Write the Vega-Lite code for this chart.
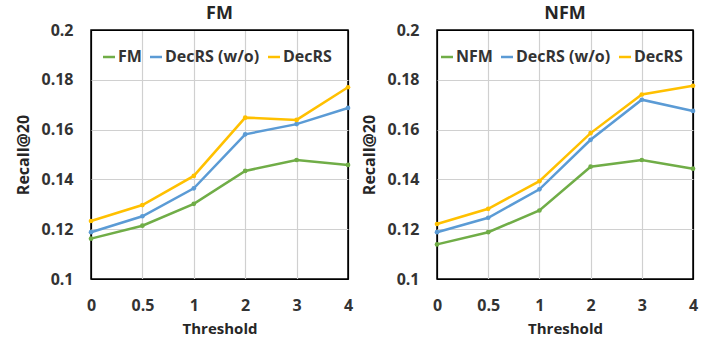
{
  "$schema": "https://vega.github.io/schema/vega-lite/v6.json",
  "padding": {"left": 15, "top": 4, "right": 5, "bottom": 2},
  "background": "white",
  "datasets": {
    "d": [
      {"model": "FM", "series": "FM", "threshold": "0", "recall": 0.1162},
      {"model": "FM", "series": "FM", "threshold": "0.5", "recall": 0.1214},
      {"model": "FM", "series": "FM", "threshold": "1", "recall": 0.1302},
      {"model": "FM", "series": "FM", "threshold": "2", "recall": 0.1434},
      {"model": "FM", "series": "FM", "threshold": "3", "recall": 0.1478},
      {"model": "FM", "series": "FM", "threshold": "4", "recall": 0.1458},
      {"model": "FM", "series": "DecRS (w/o)", "threshold": "0", "recall": 0.1188},
      {"model": "FM", "series": "DecRS (w/o)", "threshold": "0.5", "recall": 0.1252},
      {"model": "FM", "series": "DecRS (w/o)", "threshold": "1", "recall": 0.1364},
      {"model": "FM", "series": "DecRS (w/o)", "threshold": "2", "recall": 0.1581},
      {"model": "FM", "series": "DecRS (w/o)", "threshold": "3", "recall": 0.1622},
      {"model": "FM", "series": "DecRS (w/o)", "threshold": "4", "recall": 0.1687},
      {"model": "FM", "series": "DecRS", "threshold": "0", "recall": 0.1233},
      {"model": "FM", "series": "DecRS", "threshold": "0.5", "recall": 0.1297},
      {"model": "FM", "series": "DecRS", "threshold": "1", "recall": 0.1414},
      {"model": "FM", "series": "DecRS", "threshold": "2", "recall": 0.1648},
      {"model": "FM", "series": "DecRS", "threshold": "3", "recall": 0.1639},
      {"model": "FM", "series": "DecRS", "threshold": "4", "recall": 0.1770},
      {"model": "NFM", "series": "NFM", "threshold": "0", "recall": 0.1139},
      {"model": "NFM", "series": "NFM", "threshold": "0.5", "recall": 0.1188},
      {"model": "NFM", "series": "NFM", "threshold": "1", "recall": 0.1275},
      {"model": "NFM", "series": "NFM", "threshold": "2", "recall": 0.1451},
      {"model": "NFM", "series": "NFM", "threshold": "3", "recall": 0.1478},
      {"model": "NFM", "series": "NFM", "threshold": "4", "recall": 0.1443},
      {"model": "NFM", "series": "DecRS (w/o)", "threshold": "0", "recall": 0.1188},
      {"model": "NFM", "series": "DecRS (w/o)", "threshold": "0.5", "recall": 0.1246},
      {"model": "NFM", "series": "DecRS (w/o)", "threshold": "1", "recall": 0.1360},
      {"model": "NFM", "series": "DecRS (w/o)", "threshold": "2", "recall": 0.1559},
      {"model": "NFM", "series": "DecRS (w/o)", "threshold": "3", "recall": 0.1720},
      {"model": "NFM", "series": "DecRS (w/o)", "threshold": "4", "recall": 0.1675},
      {"model": "NFM", "series": "DecRS", "threshold": "0", "recall": 0.1221},
      {"model": "NFM", "series": "DecRS", "threshold": "0.5", "recall": 0.1282},
      {"model": "NFM", "series": "DecRS", "threshold": "1", "recall": 0.1393},
      {"model": "NFM", "series": "DecRS", "threshold": "2", "recall": 0.1586},
      {"model": "NFM", "series": "DecRS", "threshold": "3", "recall": 0.1741},
      {"model": "NFM", "series": "DecRS", "threshold": "4", "recall": 0.1776}
    ]
  },
  "config": {
    "font": "Open Sans",
    "view": {"stroke": "#000000", "strokeWidth": 1.5},
    "axis": {
      "labelFont": "Open Sans", "labelFontWeight": "bold", "labelFontSize": 16, "labelColor": "#333333",
      "titleFont": "Open Sans", "titleFontSize": 15, "titleFontWeight": "bold", "titleColor": "#262626",
      "ticks": false, "domain": false, "gridWidth": 1.2
    },
    "axisY": {"titleFontSize": 16},
    "title": {"font": "Open Sans", "fontSize": 18, "fontWeight": "bold", "color": "#262626", "offset": -1},
    "legend": {
      "orient": "none", "direction": "horizontal",
      "labelFont": "Open Sans", "labelFontSize": 16, "labelFontWeight": "bold", "labelColor": "#333333",
      "symbolType": "stroke", "symbolStrokeWidth": 2.5, "symbolSize": 144,
      "labelOffset": 1, "columnPadding": 3
    }
  },
  "spacing": 7,
  "resolve": {"scale": {"color": "independent"}, "legend": {"color": "independent"}},
  "hconcat": [
    {
      "title": "FM",
      "width": 257, "height": 249,
      "data": {"name": "d"},
      "transform": [{"filter": "datum.model === 'FM'"}],
      "encoding": {
        "x": {"field": "threshold", "type": "ordinal", "sort": ["0", "0.5", "1", "2", "3", "4"],
              "scale": {"type": "point", "padding": 0},
              "axis": {"title": "Threshold", "labelAngle": 0, "labelPadding": 18, "titlePadding": 8, "grid": true,
                       "gridColor": {"condition": {"test": "datum.value === '0' || datum.value === '4'", "value": "#000000"}, "value": "#D0D0D0"}}},
        "y": {"field": "recall", "type": "quantitative",
              "scale": {"domain": [0.1, 0.2], "zero": false, "nice": false},
              "axis": {"title": "Recall@20", "values": [0.1, 0.12, 0.14, 0.16, 0.18, 0.2], "format": "~g", "labelPadding": 18, "titlePadding": 9,
                       "gridColor": {"condition": {"test": "datum.value <= 0.1001 || datum.value >= 0.1999", "value": "#000000"}, "value": "#D0D0D0"}}},
        "color": {"field": "series", "type": "nominal",
                  "scale": {"domain": ["FM", "DecRS (w/o)", "DecRS"], "range": ["#70AD47", "#5B9BD5", "#FFC000"]},
                  "legend": {"title": null, "legendX": 10, "legendY": 19}}
      },
      "layer": [
        {"mark": {"type": "line", "strokeWidth": 2.5}},
        {"mark": {"type": "point", "filled": true, "size": 22, "opacity": 1}}
      ]
    },
    {
      "title": "NFM",
      "width": 256, "height": 249,
      "data": {"name": "d"},
      "transform": [{"filter": "datum.model === 'NFM'"}],
      "encoding": {
        "x": {"field": "threshold", "type": "ordinal", "sort": ["0", "0.5", "1", "2", "3", "4"],
              "scale": {"type": "point", "padding": 0},
              "axis": {"title": "Threshold", "labelAngle": 0, "labelPadding": 18, "titlePadding": 8, "grid": true,
                       "gridColor": {"condition": {"test": "datum.value === '0' || datum.value === '4'", "value": "#000000"}, "value": "#D0D0D0"}}},
        "y": {"field": "recall", "type": "quantitative",
              "scale": {"domain": [0.1, 0.2], "zero": false, "nice": false},
              "axis": {"title": "Recall@20", "values": [0.1, 0.12, 0.14, 0.16, 0.18, 0.2], "format": "~g", "labelPadding": 18, "titlePadding": 9,
                       "gridColor": {"condition": {"test": "datum.value <= 0.1001 || datum.value >= 0.1999", "value": "#000000"}, "value": "#D0D0D0"}}},
        "color": {"field": "series", "type": "nominal",
                  "scale": {"domain": ["NFM", "DecRS (w/o)", "DecRS"], "range": ["#70AD47", "#5B9BD5", "#FFC000"]},
                  "legend": {"title": null, "legendX": 2, "legendY": 19}}
      },
      "layer": [
        {"mark": {"type": "line", "strokeWidth": 2.5}},
        {"mark": {"type": "point", "filled": true, "size": 22, "opacity": 1}}
      ]
    }
  ]
}
